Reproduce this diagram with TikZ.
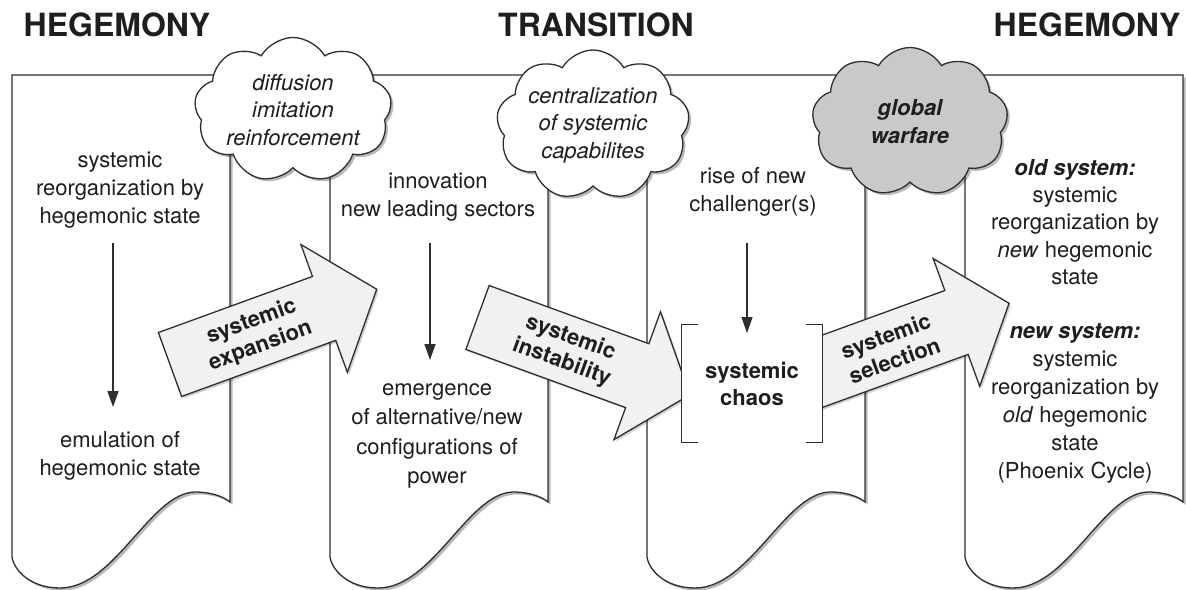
\documentclass[tikz,border=0pt]{standalone}
\usepackage{fontspec}
\setmainfont{TeX Gyre Heros}
\usetikzlibrary{shapes.symbols,shadows,arrows.meta}
\definecolor{ink}{HTML}{1E1E1E}
\definecolor{edge}{HTML}{2E2E2E}
\definecolor{arrfill}{HTML}{F1F1F1}
\definecolor{warfill}{HTML}{C9C9C9}
\tikzset{
  shad/.style={drop shadow={shadow xshift=2.5pt,shadow yshift=-2.5pt,opacity=.28,fill=black}},
  doc/.style={fill=white,draw=edge,line width=1.3pt,shad},
  docpic/.pic={\path[doc] (0,75) -- (218,75) -- (218,502)
      .. controls (212,497) and (200,492) .. (183,492)
      .. controls (138,493) and (103,588) .. (48,588)
      .. controls (18,588) and (2,570) .. (0,557) -- cycle;},
  cloudbox/.style={cloud,cloud puffs=9,cloud puff arc=120,cloud ignores aspect,
      draw=edge,line width=1.3pt,fill=white,shad,inner sep=0pt,
      font=\itshape\fontsize{22}{27.5}\selectfont,align=center,text=ink},
  barrow/.style={fill=arrfill,draw=edge,line width=1.3pt,
      drop shadow={shadow xshift=2pt,shadow yshift=-2pt,opacity=.18,fill=black}},
  blabel/.style={font=\bfseries\fontsize{22}{26}\selectfont,align=center,text=ink},
  body/.style={font=\fontsize{22}{28}\selectfont,align=center,text=ink},
  head/.style={font=\bfseries\fontsize{32}{38}\selectfont,text=ink},
  varrow/.style={draw=edge,line width=1.3pt,-{Triangle[length=16pt,width=11pt]}},
  bracket/.style={draw=edge,line width=1.3pt}
}
\begin{document}
\begin{tikzpicture}[x=1pt,y=-1pt]
\useasboundingbox (0,0) rectangle (1186,589);
% headings
\node[head] (h1) at (117,25) {HEGEMONY};
\node[head] (h2) at (596,25) {TRANSITION};
\node[head] (h3) at (1087,25) {HEGEMONY};
% documents
\pic at (12,0) {docpic};
\pic at (330,0) {docpic};
\pic at (647,0) {docpic};
\pic at (965,0) {docpic};
% clouds
\node[cloudbox,minimum width=197pt,minimum height=145pt] (c1) at (293,110) {diffusion\\imitation\\reinforcement};
\node[cloudbox,minimum width=193pt,minimum height=150pt] (c2) at (593,125) {centralization\\of systemic\\capabilites};
\node[cloudbox,fill=warfill,minimum width=196pt,minimum height=149pt,font=\bfseries\itshape\fontsize{22}{28}\selectfont] (c3) at (910,122) {global\\warfare};
% block arrows
\begin{scope}[shift={(170,364.5)},rotate=20]
  \path[barrow] (0,-34) -- (164,-34) -- (164,-68) -- (220,0) -- (164,68) -- (164,34) -- (0,34) -- cycle;
\end{scope}
\begin{scope}[shift={(477.5,317.5)},rotate=-20]
  \path[barrow] (0,-34) -- (170,-34) -- (170,-68) -- (226,0) -- (170,68) -- (170,34) -- (0,34) -- cycle;
\end{scope}
\begin{scope}[shift={(796.7,380.6)},rotate=20]
  \path[barrow] (0,-34) -- (170,-34) -- (170,-68) -- (226,0) -- (170,68) -- (170,34) -- (0,34) -- cycle;
\end{scope}
\node[blabel,rotate=20] (l1) at (256,334) {systemic\\expansion};
\node[blabel,rotate=-20] (l2) at (566,350) {systemic\\instability};
\node[blabel,rotate=20] (l3) at (890,348) {systemic\\selection};
% chaos box
\node[fill=white,minimum width=140pt,minimum height=117pt,inner sep=0pt,
      font=\bfseries\fontsize{22}{27}\selectfont,align=center,text=ink] (chaos) at (752,383.5) {systemic\\chaos};
\draw[bracket] ([xshift=16pt]chaos.north west) -- (chaos.north west) -- (chaos.south west) -- ([xshift=16pt]chaos.south west);
\draw[bracket] ([xshift=-16pt]chaos.north east) -- (chaos.north east) -- (chaos.south east) -- ([xshift=-16pt]chaos.south east);
% texts
\node[body] (t1a) at (120,190) {systemic\\reorganization by\\hegemonic state};
\node[body] (t1b) at (120,456) {emulation of\\hegemonic state};
\node[body] (t2a) at (438,197) {innovation\\new leading sectors};
\node[body,font=\fontsize{22}{29.5}\selectfont] (t2b) at (437,436) {emergence\\of alternative/new\\configurations of\\power};
\node[body] (t3a) at (753,192) {rise of new\\challenger(s)};
\node[body,font=\fontsize{22}{27.3}\selectfont] (t4a) at (1075,222) {\textbf{\textit{old system:}}\\systemic\\reorganization by\\\textit{new} hegemonic\\state};
\node[body,font=\fontsize{22}{28}\selectfont] (t4b) at (1075,403) {\textbf{\textit{new system:}}\\systemic\\reorganization by\\\textit{old} hegemonic\\state\\(Phoenix Cycle)};
% vertical arrows
\coordinate (a1s) at (113,243); \coordinate (a1e) at (113,407);
\coordinate (a2s) at (430,243); \coordinate (a2e) at (430,360);
\coordinate (a3s) at (747,243); \coordinate (a3e) at (747,333);
\draw[varrow] (a1s) -- (a1e);
\draw[varrow] (a2s) -- (a2e);
\draw[varrow] (a3s) -- (a3e);
\end{tikzpicture}
\end{document}
